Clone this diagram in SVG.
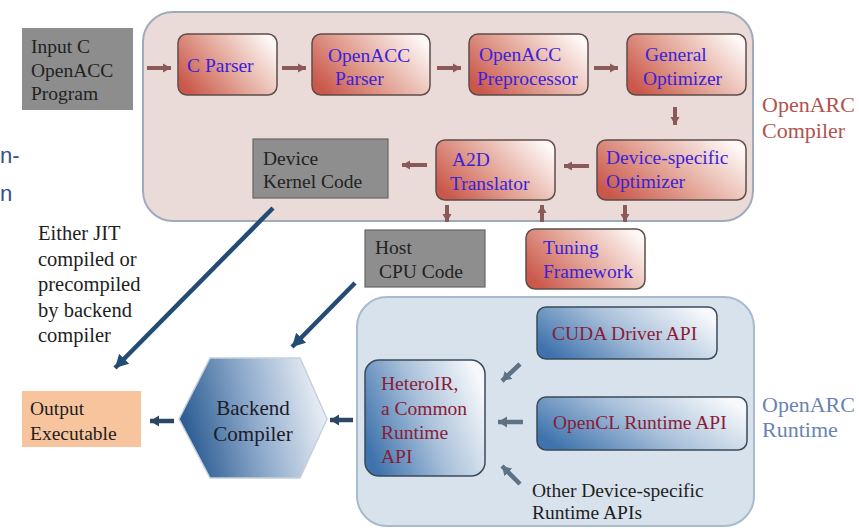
<svg xmlns="http://www.w3.org/2000/svg" width="859" height="529" viewBox="0 0 859 529" font-family="'Liberation Serif', 'DejaVu Serif', serif">
<style>
text{font-family:'Liberation Serif','DejaVu Serif',serif;}
.nt{font-size:19.5px;fill:#3a22dc;}
.rt{font-size:19.5px;fill:#8a1c36;}
.gt{font-size:19.5px;fill:#222;}
.bt{font-size:19.5px;fill:#1e1e1e;}
.lbl{font-size:22px;}
.note{font-size:20.5px;fill:#1e1e1e;}
.frag{font-family:'Liberation Sans',Arial,sans-serif;font-size:22px;fill:#34508a;}
.red{fill:url(#gRed);stroke:#5e4d4a;stroke-width:1.5;}
.blu{fill:url(#gBlue);stroke:#3c4a58;stroke-width:1.5;}
.gray{fill:#8e8e8e;stroke:#666;stroke-width:1.2;}
.ca{stroke:#8a5a5a;stroke-width:4;fill:none;marker-end:url(#mBrown);}
.ra{stroke:#5f7284;stroke-width:4.5;fill:none;marker-end:url(#mGray);}
.da{stroke:#2c4763;stroke-width:4.5;fill:none;marker-end:url(#mDark);}
.la{stroke:#234c74;stroke-width:4.5;fill:none;marker-end:url(#mLong);}
</style>
<defs>
<linearGradient id="gRed" x1="0" y1="0.75" x2="1" y2="0.25">
<stop offset="0" stop-color="#c9574a"/>
<stop offset="0.45" stop-color="#e2a193"/>
<stop offset="1" stop-color="#fdf7f5"/>
</linearGradient>
<linearGradient id="gBlue" x1="0" y1="0.7" x2="1" y2="0.3">
<stop offset="0" stop-color="#3f73ad"/>
<stop offset="0.5" stop-color="#a8c0da"/>
<stop offset="1" stop-color="#f6f8fb"/>
</linearGradient>
<linearGradient id="gHex" x1="0" y1="0.6" x2="1" y2="0.4">
<stop offset="0" stop-color="#24568e"/>
<stop offset="0.5" stop-color="#8eaacb"/>
<stop offset="1" stop-color="#eef2f7"/>
</linearGradient>
<marker id="mBrown" markerUnits="userSpaceOnUse" markerWidth="10" markerHeight="10" refX="8" refY="5" orient="auto"><path d="M0,0.5 L8,5 L0,9.5 z" fill="#8a5a5a"/></marker>
<marker id="mGray" markerUnits="userSpaceOnUse" markerWidth="12" markerHeight="12" refX="9" refY="6" orient="auto"><path d="M0,0.5 L9,6 L0,11.5 z" fill="#5f7284"/></marker>
<marker id="mDark" markerUnits="userSpaceOnUse" markerWidth="12" markerHeight="12" refX="9" refY="6" orient="auto"><path d="M0,0.5 L9,6 L0,11.5 z" fill="#2c4763"/></marker>
<marker id="mLong" markerUnits="userSpaceOnUse" markerWidth="16" markerHeight="16" refX="13" refY="8" orient="auto"><path d="M0,1 L13,8 L0,15 z" fill="#234c74"/></marker>
</defs>
<rect width="859" height="529" fill="#ffffff"/>

<!-- cut-off fragments at left edge -->
<text class="frag" x="0" y="163" font-family="'Liberation Sans', Arial, sans-serif">n-</text>
<text class="frag" x="0" y="201" font-family="'Liberation Sans', Arial, sans-serif">n</text>

<!-- containers -->
<g id="compiler">
<rect x="143" y="12" width="610" height="209" rx="30" fill="#ebdbd8" stroke="#9fabbc" stroke-width="2"/>
<text class="lbl" x="762" y="112" fill="#b3524d">OpenARC</text>
<text class="lbl" x="762" y="138" fill="#b3524d">Compiler</text>
</g>
<g id="runtime">
<rect x="357" y="297" width="397" height="229" rx="30" fill="#d7e2ed" stroke="#a9bacd" stroke-width="2"/>
<text class="lbl" x="762" y="412" fill="#6a84b2">OpenARC</text>
<text class="lbl" x="762" y="437" fill="#6a84b2">Runtime</text>
</g>

<!-- nodes -->
<g id="input">
<rect x="22" y="28" width="111" height="82" fill="#8d8d8d"/>
<text class="gt" x="31" y="53">Input C</text>
<text class="gt" x="31" y="77">OpenACC</text>
<text class="gt" x="31" y="100">Program</text>
</g>
<g id="cparser">
<rect class="red" x="178" y="34" width="99" height="61" rx="9"/>
<text class="nt" x="187" y="72">C Parser</text>
</g>
<g id="accparser">
<rect class="red" x="312" y="34" width="118" height="61" rx="9"/>
<text class="nt" x="328" y="62">OpenACC</text>
<text class="nt" x="335" y="85">Parser</text>
</g>
<g id="accpre">
<rect class="red" x="469" y="34" width="119" height="61" rx="9"/>
<text class="nt" x="479" y="61">OpenACC</text>
<text class="nt" x="477" y="85">Preprocessor</text>
</g>
<g id="genopt">
<rect class="red" x="627" y="34" width="119" height="61" rx="9"/>
<text class="nt" x="645" y="61">General</text>
<text class="nt" x="643" y="85">Optimizer</text>
</g>
<g id="devopt">
<rect class="red" x="597" y="140" width="149" height="60" rx="9"/>
<text class="nt" x="606" y="164">Device-specific</text>
<text class="nt" x="606" y="188">Optimizer</text>
</g>
<g id="a2d">
<rect class="red" x="436" y="140" width="119" height="60" rx="9"/>
<text class="nt" x="452" y="166">A2D</text>
<text class="nt" x="450" y="190">Translator</text>
</g>
<g id="kernel">
<rect class="gray" x="253" y="139" width="135" height="59"/>
<text class="gt" x="263" y="165">Device</text>
<text class="gt" x="263" y="188">Kernel Code</text>
</g>
<g id="host">
<rect class="gray" x="365" y="230" width="120" height="57"/>
<text class="gt" x="375" y="254">Host</text>
<text class="gt" x="379" y="278">CPU Code</text>
</g>
<g id="tuning">
<rect class="red" x="526" y="229" width="119" height="60" rx="9"/>
<text class="nt" x="543" y="254">Tuning</text>
<text class="nt" x="543" y="278">Framework</text>
</g>
<g id="cuda">
<rect class="blu" x="537" y="307" width="180" height="52" rx="9"/>
<text class="rt" x="552" y="340">CUDA Driver API</text>
</g>
<g id="opencl">
<rect class="blu" x="537" y="397" width="210" height="53" rx="9"/>
<text class="rt" x="553" y="429">OpenCL Runtime API</text>
</g>
<g id="heteroir">
<rect class="blu" x="365" y="360" width="120" height="116" rx="14"/>
<text class="rt" x="381" y="390">HeteroIR,</text>
<text class="rt" x="381" y="415">a Common</text>
<text class="rt" x="381" y="439">Runtime</text>
<text class="rt" x="381" y="463">API</text>
</g>
<g id="other">
<text class="bt" x="532" y="497">Other Device-specific</text>
<text class="bt" x="532" y="519">Runtime APIs</text>
</g>
<g id="backend">
<polygon points="179,419 210,358 300,358 327,419 300,478 210,478" fill="url(#gHex)" stroke="#c5d0dc" stroke-width="1.5"/>
<text x="253" y="415" text-anchor="middle" font-size="21" fill="#1c1c2a">Backend</text>
<text x="253" y="441" text-anchor="middle" font-size="21" fill="#1c1c2a">Compiler</text>
</g>
<g id="output">
<rect x="22" y="391" width="119" height="56" fill="#f8c49d"/>
<text class="bt" x="30" y="415">Output</text>
<text class="bt" x="30" y="440">Executable</text>
</g>
<g id="note">
<text class="note" x="38" y="240">Either JIT</text>
<text class="note" x="38" y="265.5">compiled or</text>
<text class="note" x="38" y="291">precompiled</text>
<text class="note" x="38" y="316.5">by backend</text>
<text class="note" x="38" y="342">compiler</text>
</g>

<!-- connectors -->
<g id="connectors">
<line class="ca" x1="147" y1="68" x2="171" y2="68"/>
<line class="ca" x1="282" y1="68" x2="306" y2="68"/>
<line class="ca" x1="437" y1="68" x2="461" y2="68"/>
<line class="ca" x1="594" y1="68" x2="618" y2="68"/>
<line class="ca" x1="675" y1="107" x2="675" y2="125"/>
<line class="ca" x1="589" y1="166" x2="564" y2="166"/>
<line class="ca" x1="427" y1="165" x2="402" y2="165"/>
<line class="ca" x1="447" y1="205" x2="447" y2="222"/>
<line class="ca" x1="542" y1="222" x2="542" y2="205"/>
<line class="ca" x1="625" y1="205" x2="625" y2="222"/>
<line class="ra" x1="520" y1="364" x2="502" y2="381"/>
<line class="ra" x1="523" y1="422" x2="498" y2="422"/>
<line class="ra" x1="520" y1="484" x2="502" y2="466"/>
<line class="da" x1="353" y1="420" x2="330" y2="420"/>
<line class="da" x1="174" y1="421" x2="150" y2="421"/>
<line class="la" x1="273" y1="208" x2="115" y2="368"/>
<line class="la" x1="355" y1="283" x2="292" y2="347"/>
</g>
</svg>
